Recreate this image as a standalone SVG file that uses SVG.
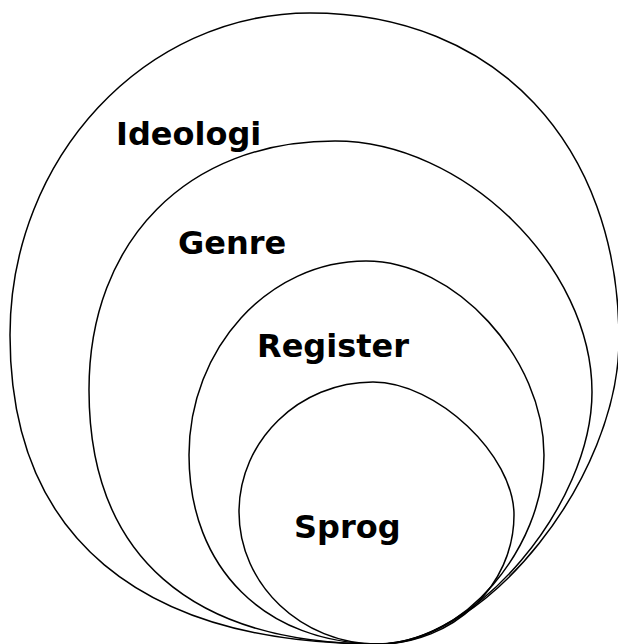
<svg xmlns="http://www.w3.org/2000/svg" width="618" height="644" viewBox="0 0 618 644">
<style>
.ring{fill:none;stroke:#000;stroke-width:1.5}
.lbl{font-family:"DejaVu Sans","Verdana",sans-serif;font-weight:bold;font-size:32px;fill:#000}
</style>
<rect width="618" height="644" fill="#fff"/>
<g id="ideologi">
<path class="ring" d="M310,13 C495.4,13 619,143.8 619,340 C619,476.8 486.5,644 378,644 C138.8,644 10,535.9 10,335 C10,157.9 145,13 310,13 Z"/>
<text class="lbl" x="116" y="145">Ideologi</text>
</g>
<g id="genre">
<path class="ring" d="M335,141 C463.5,141 592,266.5 592,392 C592,505.4 474.3,644 378,644 C190.2,644 89,555.1 89,390 C89,240.6 187.4,141 335,141 Z"/>
<text class="lbl" x="178" y="254">Genre</text>
</g>
<g id="register">
<path class="ring" d="M366,261 C455,261 544,358 544,455 C544,549.5 462,644 380,644 C265.4,644 189,568.4 189,455 C189,348.3 268.7,261 366,261 Z"/>
<text class="lbl" x="257" y="357">Register</text>
</g>
<g id="sprog">
<path class="ring" d="M373,382 C436.5,382 514,455 514,515 C514,586 452.8,644 378,644 C301.55,644 239,584.6 239,512 C239,440.5 299.3,382 373,382 Z"/>
<text class="lbl" x="294" y="538">Sprog</text>
</g>
<g id="connectors"></g>
</svg>
